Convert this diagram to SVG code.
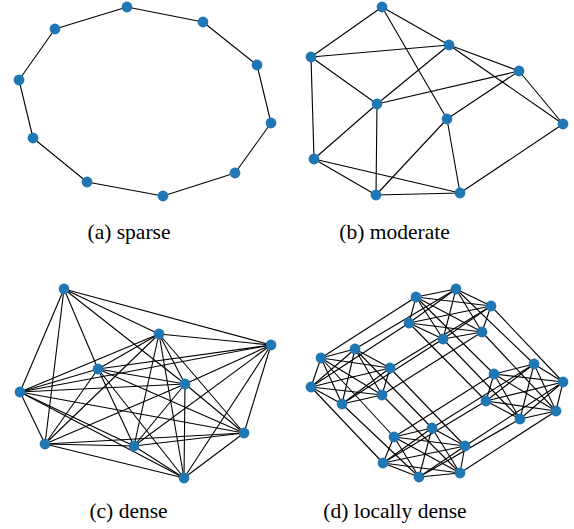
<svg xmlns="http://www.w3.org/2000/svg" width="574" height="529" viewBox="0 0 574 529">
<style>
.e line{stroke:#000;stroke-width:1.1}
.n circle{fill:#1f77b4}
text{font-family:"Liberation Serif","Times New Roman",serif;font-size:21.5px;fill:#000;text-anchor:middle}
</style>
<rect width="574" height="529" fill="#fff"/>
<!-- (a) sparse -->
<g id="edges-a" class="e">
<line x1="127" y1="7" x2="203" y2="22"/>
<line x1="203" y1="22" x2="257" y2="65"/>
<line x1="257" y1="65" x2="271" y2="123"/>
<line x1="271" y1="123" x2="235" y2="173"/>
<line x1="235" y1="173" x2="163" y2="196"/>
<line x1="163" y1="196" x2="87" y2="182"/>
<line x1="87" y1="182" x2="33" y2="138"/>
<line x1="33" y1="138" x2="19" y2="80"/>
<line x1="19" y1="80" x2="55" y2="29"/>
<line x1="55" y1="29" x2="127" y2="7"/>
</g>
<g id="nodes-a" class="n">
<g id="a0"><circle cx="127" cy="7" r="5.4"/></g>
<g id="a1"><circle cx="203" cy="22" r="5.4"/></g>
<g id="a2"><circle cx="257" cy="65" r="5.4"/></g>
<g id="a3"><circle cx="271" cy="123" r="5.4"/></g>
<g id="a4"><circle cx="235" cy="173" r="5.4"/></g>
<g id="a5"><circle cx="163" cy="196" r="5.4"/></g>
<g id="a6"><circle cx="87" cy="182" r="5.4"/></g>
<g id="a7"><circle cx="33" cy="138" r="5.4"/></g>
<g id="a8"><circle cx="19" cy="80" r="5.4"/></g>
<g id="a9"><circle cx="55" cy="29" r="5.4"/></g>
</g>
<text x="129" y="239">(a) sparse</text>

<!-- (b) moderate -->
<g id="edges-b" class="e">
<line x1="382" y1="7" x2="449" y2="45"/>
<line x1="382" y1="7" x2="311" y2="57"/>
<line x1="382" y1="7" x2="447" y2="119"/>
<line x1="311" y1="57" x2="449" y2="45"/>
<line x1="311" y1="57" x2="377" y2="104"/>
<line x1="311" y1="57" x2="314" y2="159"/>
<line x1="449" y1="45" x2="377" y2="104"/>
<line x1="449" y1="45" x2="519" y2="71"/>
<line x1="449" y1="45" x2="563" y2="124"/>
<line x1="519" y1="71" x2="377" y2="104"/>
<line x1="519" y1="71" x2="447" y2="119"/>
<line x1="519" y1="71" x2="563" y2="124"/>
<line x1="377" y1="104" x2="314" y2="159"/>
<line x1="377" y1="104" x2="376" y2="195"/>
<line x1="447" y1="119" x2="376" y2="195"/>
<line x1="447" y1="119" x2="460" y2="193"/>
<line x1="314" y1="159" x2="376" y2="195"/>
<line x1="314" y1="159" x2="460" y2="193"/>
<line x1="376" y1="195" x2="460" y2="193"/>
<line x1="563" y1="124" x2="460" y2="193"/>
</g>
<g id="nodes-b" class="n">
<g id="b0"><circle cx="382" cy="7" r="5.4"/></g>
<g id="b1"><circle cx="449" cy="45" r="5.4"/></g>
<g id="b2"><circle cx="311" cy="57" r="5.4"/></g>
<g id="b3"><circle cx="519" cy="71" r="5.4"/></g>
<g id="b4"><circle cx="377" cy="104" r="5.4"/></g>
<g id="b5"><circle cx="563" cy="124" r="5.4"/></g>
<g id="b6"><circle cx="447" cy="119" r="5.4"/></g>
<g id="b7"><circle cx="314" cy="159" r="5.4"/></g>
<g id="b8"><circle cx="376" cy="195" r="5.4"/></g>
<g id="b9"><circle cx="460" cy="193" r="5.4"/></g>
</g>
<text x="394.5" y="239">(b) moderate</text>

<!-- (c) dense -->
<g id="edges-c" class="e">
<line x1="64" y1="289" x2="159" y2="334"/>
<line x1="64" y1="289" x2="271" y2="345"/>
<line x1="64" y1="289" x2="98" y2="369"/>
<line x1="64" y1="289" x2="185" y2="384"/>
<line x1="64" y1="289" x2="20" y2="392"/>
<line x1="64" y1="289" x2="45" y2="444"/>
<line x1="159" y1="334" x2="271" y2="345"/>
<line x1="159" y1="334" x2="98" y2="369"/>
<line x1="159" y1="334" x2="185" y2="384"/>
<line x1="159" y1="334" x2="20" y2="392"/>
<line x1="159" y1="334" x2="244" y2="433"/>
<line x1="159" y1="334" x2="45" y2="444"/>
<line x1="159" y1="334" x2="134" y2="446"/>
<line x1="159" y1="334" x2="184" y2="478"/>
<line x1="271" y1="345" x2="98" y2="369"/>
<line x1="271" y1="345" x2="185" y2="384"/>
<line x1="271" y1="345" x2="20" y2="392"/>
<line x1="271" y1="345" x2="244" y2="433"/>
<line x1="271" y1="345" x2="134" y2="446"/>
<line x1="271" y1="345" x2="184" y2="478"/>
<line x1="98" y1="369" x2="185" y2="384"/>
<line x1="98" y1="369" x2="20" y2="392"/>
<line x1="98" y1="369" x2="244" y2="433"/>
<line x1="98" y1="369" x2="45" y2="444"/>
<line x1="98" y1="369" x2="134" y2="446"/>
<line x1="98" y1="369" x2="184" y2="478"/>
<line x1="185" y1="384" x2="20" y2="392"/>
<line x1="185" y1="384" x2="244" y2="433"/>
<line x1="185" y1="384" x2="45" y2="444"/>
<line x1="185" y1="384" x2="134" y2="446"/>
<line x1="185" y1="384" x2="184" y2="478"/>
<line x1="20" y1="392" x2="244" y2="433"/>
<line x1="20" y1="392" x2="45" y2="444"/>
<line x1="20" y1="392" x2="134" y2="446"/>
<line x1="20" y1="392" x2="184" y2="478"/>
<line x1="244" y1="433" x2="45" y2="444"/>
<line x1="244" y1="433" x2="134" y2="446"/>
<line x1="244" y1="433" x2="184" y2="478"/>
<line x1="45" y1="444" x2="134" y2="446"/>
<line x1="45" y1="444" x2="184" y2="478"/>
<line x1="134" y1="446" x2="184" y2="478"/>
</g>
<g id="nodes-c" class="n">
<g id="c0"><circle cx="64" cy="289" r="5.4"/></g>
<g id="c1"><circle cx="159" cy="334" r="5.4"/></g>
<g id="c2"><circle cx="271" cy="345" r="5.4"/></g>
<g id="c3"><circle cx="98" cy="369" r="5.4"/></g>
<g id="c4"><circle cx="185" cy="384" r="5.4"/></g>
<g id="c5"><circle cx="20" cy="392" r="5.4"/></g>
<g id="c6"><circle cx="244" cy="433" r="5.4"/></g>
<g id="c7"><circle cx="45" cy="444" r="5.4"/></g>
<g id="c8"><circle cx="134" cy="446" r="5.4"/></g>
<g id="c9"><circle cx="184" cy="478" r="5.4"/></g>
</g>
<text x="128.5" y="518">(c) dense</text>

<!-- (d) locally dense -->
<g id="edges-d" class="e">
<line x1="416" y1="297" x2="456" y2="289"/>
<line x1="416" y1="297" x2="491" y2="306"/>
<line x1="416" y1="297" x2="409" y2="323"/>
<line x1="416" y1="297" x2="443" y2="339"/>
<line x1="416" y1="297" x2="482" y2="332"/>
<line x1="456" y1="289" x2="491" y2="306"/>
<line x1="456" y1="289" x2="409" y2="323"/>
<line x1="456" y1="289" x2="443" y2="339"/>
<line x1="456" y1="289" x2="482" y2="332"/>
<line x1="491" y1="306" x2="409" y2="323"/>
<line x1="491" y1="306" x2="443" y2="339"/>
<line x1="491" y1="306" x2="482" y2="332"/>
<line x1="409" y1="323" x2="443" y2="339"/>
<line x1="409" y1="323" x2="482" y2="332"/>
<line x1="443" y1="339" x2="482" y2="332"/>
<line x1="321" y1="358" x2="355" y2="349"/>
<line x1="321" y1="358" x2="390" y2="368"/>
<line x1="321" y1="358" x2="311" y2="387"/>
<line x1="321" y1="358" x2="342" y2="404"/>
<line x1="321" y1="358" x2="382" y2="395"/>
<line x1="355" y1="349" x2="390" y2="368"/>
<line x1="355" y1="349" x2="311" y2="387"/>
<line x1="355" y1="349" x2="342" y2="404"/>
<line x1="355" y1="349" x2="382" y2="395"/>
<line x1="390" y1="368" x2="311" y2="387"/>
<line x1="390" y1="368" x2="342" y2="404"/>
<line x1="390" y1="368" x2="382" y2="395"/>
<line x1="311" y1="387" x2="342" y2="404"/>
<line x1="311" y1="387" x2="382" y2="395"/>
<line x1="342" y1="404" x2="382" y2="395"/>
<line x1="494" y1="374" x2="534" y2="364"/>
<line x1="494" y1="374" x2="563" y2="382"/>
<line x1="494" y1="374" x2="486" y2="401"/>
<line x1="494" y1="374" x2="520" y2="419"/>
<line x1="494" y1="374" x2="556" y2="411"/>
<line x1="534" y1="364" x2="563" y2="382"/>
<line x1="534" y1="364" x2="486" y2="401"/>
<line x1="534" y1="364" x2="520" y2="419"/>
<line x1="534" y1="364" x2="556" y2="411"/>
<line x1="563" y1="382" x2="486" y2="401"/>
<line x1="563" y1="382" x2="520" y2="419"/>
<line x1="563" y1="382" x2="556" y2="411"/>
<line x1="486" y1="401" x2="520" y2="419"/>
<line x1="486" y1="401" x2="556" y2="411"/>
<line x1="520" y1="419" x2="556" y2="411"/>
<line x1="394" y1="437" x2="432" y2="428"/>
<line x1="394" y1="437" x2="465" y2="446"/>
<line x1="394" y1="437" x2="383" y2="463"/>
<line x1="394" y1="437" x2="419" y2="477"/>
<line x1="394" y1="437" x2="460" y2="473"/>
<line x1="432" y1="428" x2="465" y2="446"/>
<line x1="432" y1="428" x2="383" y2="463"/>
<line x1="432" y1="428" x2="419" y2="477"/>
<line x1="432" y1="428" x2="460" y2="473"/>
<line x1="465" y1="446" x2="383" y2="463"/>
<line x1="465" y1="446" x2="419" y2="477"/>
<line x1="465" y1="446" x2="460" y2="473"/>
<line x1="383" y1="463" x2="419" y2="477"/>
<line x1="383" y1="463" x2="460" y2="473"/>
<line x1="419" y1="477" x2="460" y2="473"/>
<line x1="416" y1="297" x2="321" y2="358"/>
<line x1="456" y1="289" x2="355" y2="349"/>
<line x1="491" y1="306" x2="390" y2="368"/>
<line x1="409" y1="323" x2="311" y2="387"/>
<line x1="443" y1="339" x2="342" y2="404"/>
<line x1="482" y1="332" x2="382" y2="395"/>
<line x1="416" y1="297" x2="494" y2="374"/>
<line x1="456" y1="289" x2="534" y2="364"/>
<line x1="491" y1="306" x2="563" y2="382"/>
<line x1="409" y1="323" x2="486" y2="401"/>
<line x1="443" y1="339" x2="520" y2="419"/>
<line x1="482" y1="332" x2="556" y2="411"/>
<line x1="321" y1="358" x2="394" y2="437"/>
<line x1="355" y1="349" x2="432" y2="428"/>
<line x1="390" y1="368" x2="465" y2="446"/>
<line x1="311" y1="387" x2="383" y2="463"/>
<line x1="342" y1="404" x2="419" y2="477"/>
<line x1="382" y1="395" x2="460" y2="473"/>
<line x1="494" y1="374" x2="394" y2="437"/>
<line x1="534" y1="364" x2="432" y2="428"/>
<line x1="563" y1="382" x2="465" y2="446"/>
<line x1="486" y1="401" x2="383" y2="463"/>
<line x1="520" y1="419" x2="419" y2="477"/>
<line x1="556" y1="411" x2="460" y2="473"/>
</g>
<g id="nodes-d" class="n">
<g id="d-t1"><circle cx="416" cy="297" r="5.4"/></g>
<g id="d-t2"><circle cx="456" cy="289" r="5.4"/></g>
<g id="d-t3"><circle cx="491" cy="306" r="5.4"/></g>
<g id="d-t4"><circle cx="409" cy="323" r="5.4"/></g>
<g id="d-t5"><circle cx="443" cy="339" r="5.4"/></g>
<g id="d-t6"><circle cx="482" cy="332" r="5.4"/></g>
<g id="d-l1"><circle cx="321" cy="358" r="5.4"/></g>
<g id="d-l2"><circle cx="355" cy="349" r="5.4"/></g>
<g id="d-l3"><circle cx="390" cy="368" r="5.4"/></g>
<g id="d-l4"><circle cx="311" cy="387" r="5.4"/></g>
<g id="d-l5"><circle cx="342" cy="404" r="5.4"/></g>
<g id="d-l6"><circle cx="382" cy="395" r="5.4"/></g>
<g id="d-r1"><circle cx="494" cy="374" r="5.4"/></g>
<g id="d-r2"><circle cx="534" cy="364" r="5.4"/></g>
<g id="d-r3"><circle cx="563" cy="382" r="5.4"/></g>
<g id="d-r4"><circle cx="486" cy="401" r="5.4"/></g>
<g id="d-r5"><circle cx="520" cy="419" r="5.4"/></g>
<g id="d-r6"><circle cx="556" cy="411" r="5.4"/></g>
<g id="d-b1"><circle cx="394" cy="437" r="5.4"/></g>
<g id="d-b2"><circle cx="432" cy="428" r="5.4"/></g>
<g id="d-b3"><circle cx="465" cy="446" r="5.4"/></g>
<g id="d-b4"><circle cx="383" cy="463" r="5.4"/></g>
<g id="d-b5"><circle cx="419" cy="477" r="5.4"/></g>
<g id="d-b6"><circle cx="460" cy="473" r="5.4"/></g>
</g>
<text x="395" y="518">(d) locally dense</text>
</svg>
